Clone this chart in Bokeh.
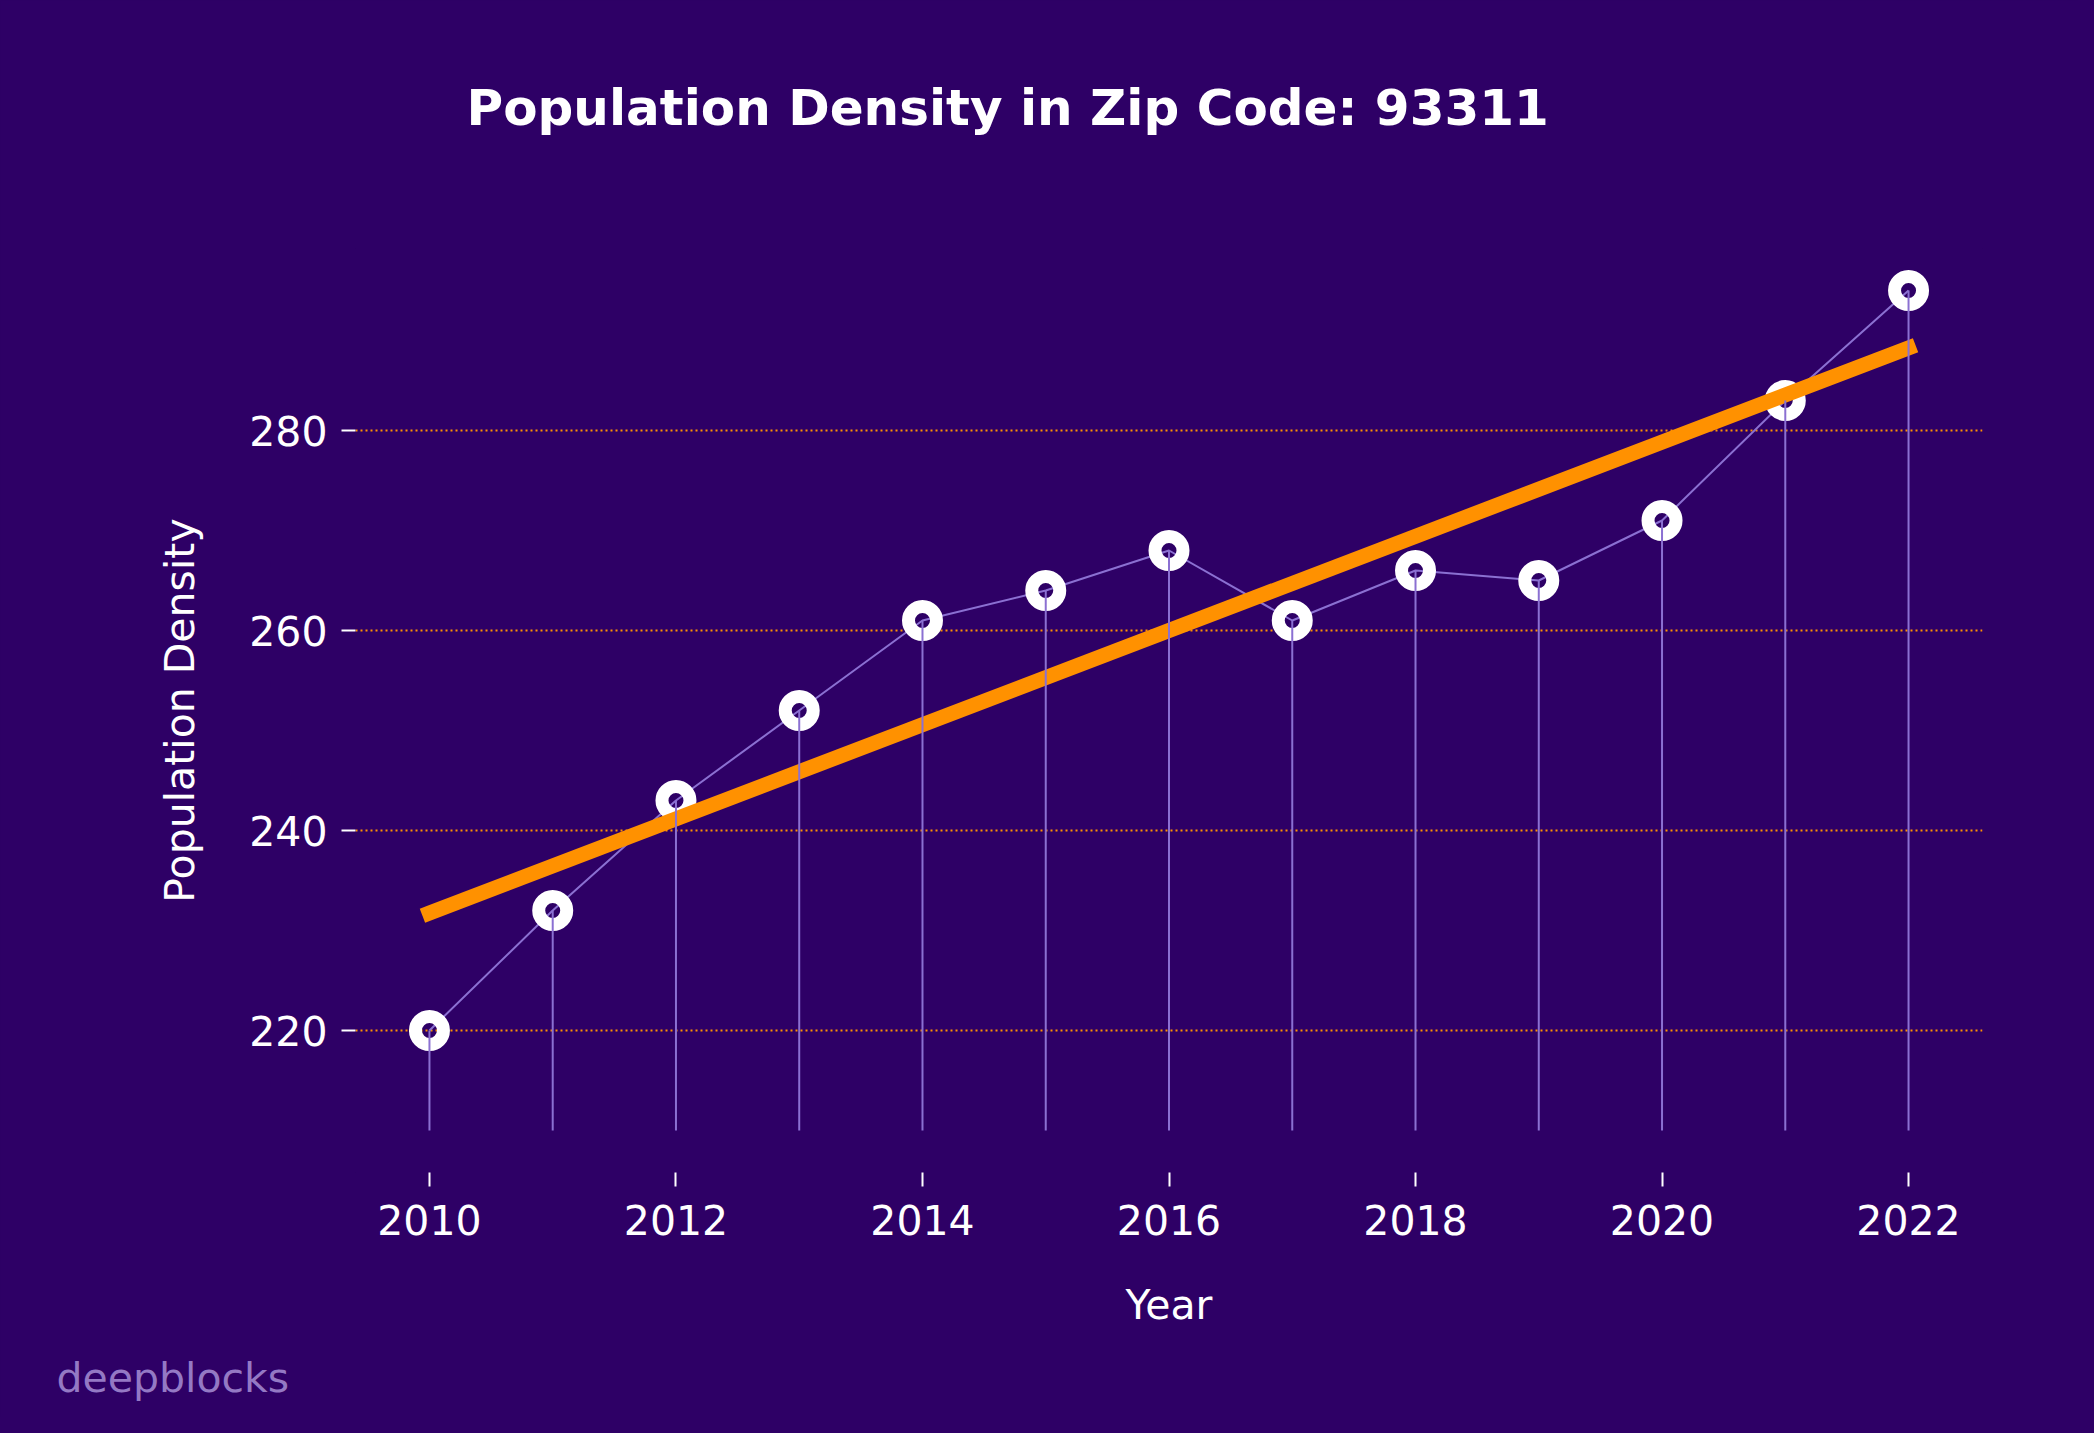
import numpy as np
from bokeh.plotting import figure
from bokeh.models import Range1d, FixedTicker, Title, GlobalInlineStyleSheet
from bokeh.embed import file_html
from bokeh.resources import INLINE

# ---- data ----
years = [2010, 2011, 2012, 2013, 2014, 2015, 2016, 2017, 2018, 2019, 2020, 2021, 2022]
density = [220, 232, 243, 252, 261, 264, 268, 261, 266, 265, 271, 283, 294]
stem_base = 210
y_ticks = [220, 240, 260, 280]
x_ticks = [2010, 2012, 2014, 2016, 2018, 2020, 2022]
title_text = "Population Density in Zip Code: 93311"
x_label = "Year"
y_label = "Population Density"
watermark = "deepblocks"

BG = "#2e0066"
ORANGE = "#ff9100"
STEM = "#8b70d2"
FONT = "DejaVu Sans"

# linear trend (least squares fit of the series)
slope, intercept = np.polyfit(years, density, 1)
trend_x = [years[0], years[-1]]
trend_y = [slope * x + intercept for x in trend_x]

xpad = 0.05 * (years[-1] - years[0])
ypad = 0.05 * (max(density) - stem_base)

W, H = 2078, 1417
p = figure(width=W, height=H, output_backend="svg", toolbar_location=None,
           title=None,
           x_range=Range1d(years[0] - xpad, years[-1] + xpad),
           y_range=Range1d(stem_base - ypad, max(density) + ypad),
           min_border_left=355, min_border_right=96,
           min_border_top=248, min_border_bottom=245)
p.stylesheets = [GlobalInlineStyleSheet(css="body{background:%s;}" % BG)]
p.background_fill_color = BG
p.border_fill_color = BG
p.outline_line_color = None

xaxis = p.xaxis[0]
yaxis = p.yaxis[0]


def spacer(gap):
    # background-coloured tiny title used only to reserve space
    return Title(text=".", text_font_size="4px", text_color=BG, standoff=gap)


# title (spacer sits between frame and title)
p.add_layout(spacer(97), "above")
p.add_layout(Title(text=title_text, text_font=FONT, text_font_size="50px",
                   text_font_style="bold", text_color="white",
                   align="left", offset=111, standoff=20), "above")

# connecting line
p.line(years, density, line_color=STEM, line_width=2)
# ring markers
p.scatter(years, density, size=28, fill_alpha=0, line_color="white", line_width=13)
# trend
p.line(trend_x, trend_y, line_color=ORANGE, line_width=15, line_cap="square")
# stems
p.segment(x0=years, y0=[stem_base] * len(years), x1=years, y1=density,
          line_color=STEM, line_width=2)

# grids
p.xgrid.grid_line_color = None
p.ygrid.grid_line_color = ORANGE
p.ygrid.grid_line_width = 2
p.ygrid.grid_line_dash = "2 3"
p.ygrid.ticker = FixedTicker(ticks=y_ticks)

for ax in (xaxis, yaxis):
    ax.axis_line_color = None
    ax.major_tick_line_color = "white"
    ax.major_tick_line_width = 2
    ax.major_tick_out = 14
    ax.major_tick_in = 0
    ax.minor_tick_line_color = None
    ax.major_label_text_color = "white"
    ax.major_label_text_font = FONT
    ax.major_label_text_font_size = "41px"
    ax.axis_label_text_color = "white"
    ax.axis_label_text_font = FONT
    ax.axis_label_text_font_size = "41px"
    ax.axis_label_text_font_style = "normal"

xaxis.ticker = FixedTicker(ticks=x_ticks)
yaxis.ticker = FixedTicker(ticks=y_ticks)
xaxis.axis_label = x_label
yaxis.axis_label = y_label
xaxis.major_label_standoff = 18
yaxis.major_label_standoff = 14
xaxis.axis_label_standoff = 43
yaxis.axis_label_standoff = 42

# watermark (spacer sits between x axis and watermark)
p.add_layout(spacer(5), "below")
p.add_layout(Title(text=watermark, text_font=FONT, text_font_size="41px",
                   text_font_style="normal", text_color="#9479c4",
                   align="left", offset=56 - 355, standoff=20), "below")

open("out.html", "w").write(file_html(p, INLINE))
